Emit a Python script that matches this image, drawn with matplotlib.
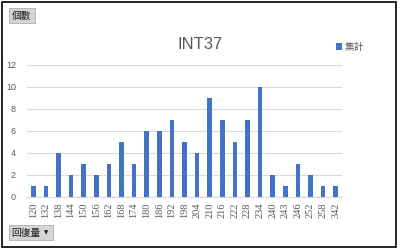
import matplotlib
matplotlib.use('Agg')
import matplotlib.pyplot as plt
from matplotlib.patches import Rectangle
import numpy as np

plt.rcParams['font.family'] = ['Liberation Sans', 'Noto Sans CJK TC', 'DejaVu Sans']

categories = ['120', '132', '138', '144', '150', '156', '162', '168', '174', '180',
              '186', '192', '198', '204', '210', '216', '222', '228', '234', '240',
              '243', '246', '252', '258', '342']
counts = [1, 1, 4, 2, 3, 2, 3, 5, 3, 6, 6, 7, 5, 4, 9, 7, 5, 7, 10, 2, 1, 3, 2, 1, 1]
yticks = [0, 2, 4, 6, 8, 10, 12]

W, H = 400, 248
fig = plt.figure(figsize=(4, 2.48), dpi=100)
fig.patch.set_facecolor('white')

# outer frame
fig.patches.append(Rectangle((1.5 / W, 1 - 246.5 / H), 394 / W, 245 / H,
                             transform=fig.transFigure, fill=False,
                             edgecolor='black', linewidth=1.2))

ax = fig.add_axes([27 / W, 1 - 197 / H, 315 / W, 132 / H])
x = np.arange(len(categories))
ax.bar(x, counts, width=0.35, color='#4472C4', label='集計', zorder=3)
ax.set_xlim(-0.5, len(categories) - 0.5)
ax.set_ylim(0, 12)
ax.set_yticks(yticks)
ax.set_xticks(x)
ax.set_xticklabels(categories, rotation=90, fontsize=7.5, color='#595959',
                   family=['Liberation Serif'])
ax.tick_params(axis='y', labelsize=6.5, labelcolor='#595959', length=0, pad=8)
ax.tick_params(axis='x', length=0, pad=4)
ax.grid(axis='y', color='#d9d9d9', linewidth=0.8, zorder=0)
for s in ['top', 'right', 'left']:
    ax.spines[s].set_visible(False)
ax.spines['bottom'].set_color('#d9d9d9')
ax.spines['bottom'].set_linewidth(0.8)

fig.text(200 / W, 1 - 44 / H, 'INT37', ha='center', va='center',
         fontsize=12, color='#595959')

ax.legend(loc='center left', bbox_to_anchor=(327 / W, 1 - 47 / H),
          bbox_transform=fig.transFigure, frameon=False,
          handlelength=0.6, handleheight=0.6, handletextpad=0.3,
          labelcolor='#595959', prop={'family': ['Noto Sans CJK TC'], 'size': 7})

# field buttons
fig.patches.append(Rectangle((9 / W, 1 - 23 / H), 26 / W, 15 / H,
                             transform=fig.transFigure, facecolor='#d4d4d4',
                             edgecolor='#b0b0b0', linewidth=0.6))
fig.text(22 / W, 1 - 15.5 / H, '個數', ha='center', va='center', fontsize=7,
         family=['Noto Sans CJK TC'], color='#222222')
fig.patches.append(Rectangle((9 / W, 1 - 240 / H), 44 / W, 15 / H,
                             transform=fig.transFigure, facecolor='#d4d4d4',
                             edgecolor='#b0b0b0', linewidth=0.6))
fig.text(11 / W, 1 - 232.5 / H, '回復量', ha='left', va='center', fontsize=7,
         family=['Noto Sans CJK TC'], color='#222222')
fig.text(46 / W, 1 - 232.5 / H, '▼', ha='center', va='center', fontsize=4,
         family=['DejaVu Sans'], color='#222222')

fig.savefig('out.png', dpi=100)
